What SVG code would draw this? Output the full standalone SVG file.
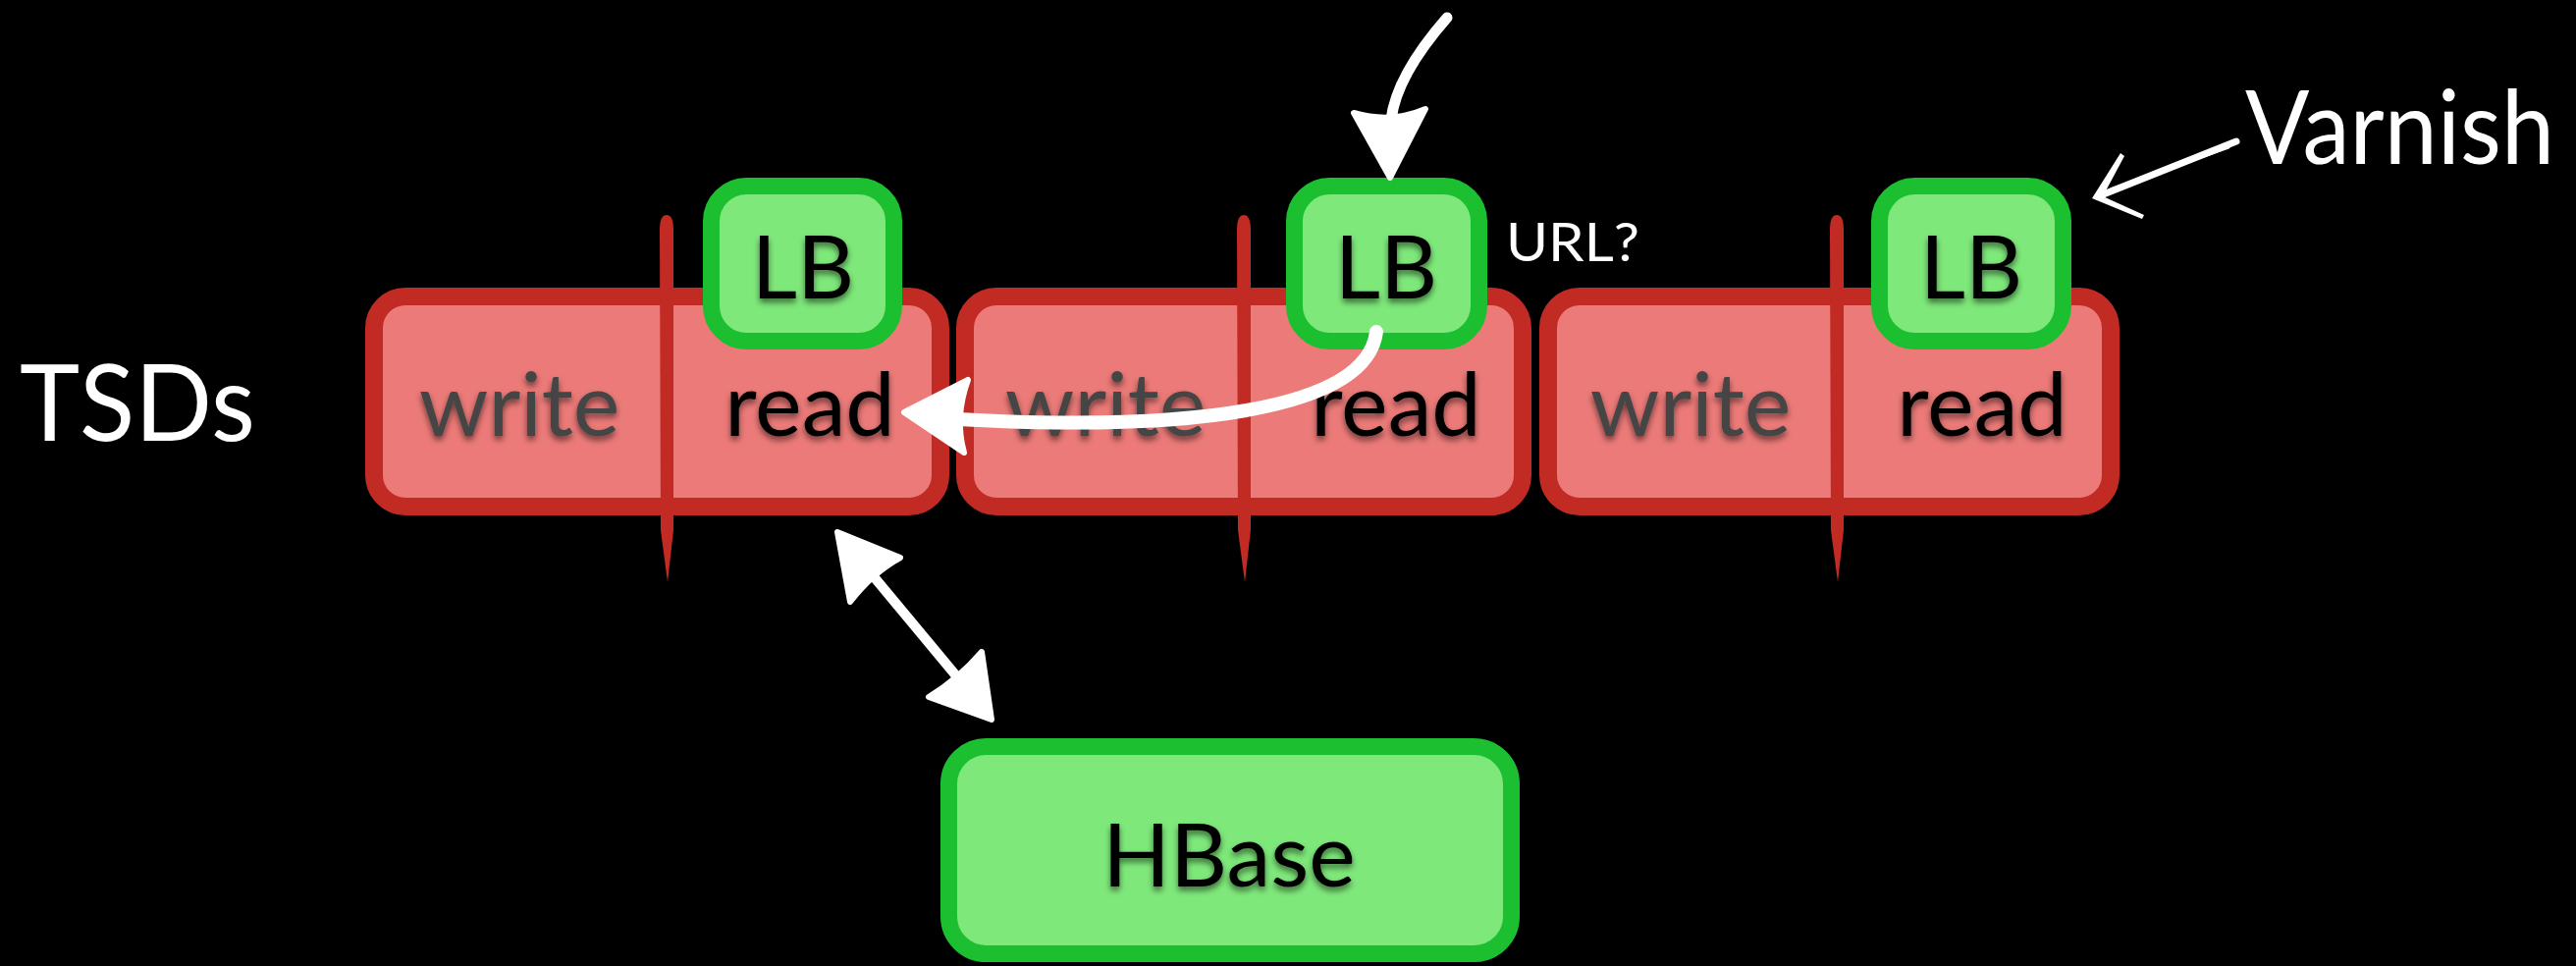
<svg xmlns="http://www.w3.org/2000/svg" width="2624" height="984" viewBox="0 0 2624 984">
<style>
.tsd{fill:#EB7A78;stroke:#C22A24;stroke-width:18}
.lb{fill:#7EE87A;stroke:#1CBF30;stroke-width:17}
.div{fill:#C22A24}
.t{font-family:Lato,"Liberation Sans",sans-serif;font-size:90px;text-anchor:middle;filter:url(#sh)}
.w{fill:#454545}
.r{fill:#000}
.lbl{font-family:Lato,"Liberation Sans",sans-serif;fill:#fff}
.shaft{fill:none;stroke:#fff;stroke-linecap:round}
.head{fill:#fff;stroke:#fff;stroke-width:6;stroke-linejoin:round}
</style>
<defs>
<filter id="sh" x="-20%" y="-20%" width="140%" height="160%">
<feGaussianBlur in="SourceAlpha" stdDeviation="3"/>
<feOffset dx="0" dy="4" result="b"/>
<feComponentTransfer><feFuncA type="linear" slope="0.55"/></feComponentTransfer>
<feMerge><feMergeNode/><feMergeNode in="SourceGraphic"/></feMerge>
</filter>
</defs>
<rect width="2624" height="984" fill="#000"/>

<text class="lbl" x="20" y="449" font-size="108" textLength="240" lengthAdjust="spacingAndGlyphs">TSDs</text>
<text class="lbl" x="2287" y="167" font-size="104" textLength="315" lengthAdjust="spacingAndGlyphs">Varnish</text>
<text class="lbl" x="1534" y="266" font-size="54" textLength="136" lengthAdjust="spacingAndGlyphs">URL?</text>

<g id="tsd1">
<rect class="tsd" x="381" y="302" width="577" height="214" rx="32"/>
<path class="div" d="M672,234 Q672,219 679,219 Q686,219 686,234 L686,540 L680,593 L673,540 Z"/>
<text class="t w" x="529" y="444">write</text>
<text class="t r" x="825" y="444">read</text>
</g>
<g id="tsd2">
<rect class="tsd" x="983" y="302" width="568" height="214" rx="32"/>
<path class="div" d="M1260,234 Q1260,219 1267,219 Q1274,219 1274,234 L1274,540 L1268,593 L1261,540 Z"/>
<text class="t w" x="1126" y="444">write</text>
<text class="t r" x="1422" y="444">read</text>
</g>
<g id="tsd3">
<rect class="tsd" x="1577" y="302" width="573" height="214" rx="32"/>
<path class="div" d="M1864,234 Q1864,219 1871,219 Q1878,219 1878,234 L1878,540 L1872,593 L1865,540 Z"/>
<text class="t w" x="1722" y="444">write</text>
<text class="t r" x="2019" y="444">read</text>
</g>
<g id="lb1">
<rect class="lb" x="724.5" y="189.5" width="186" height="158" rx="36"/>
<text class="t r" x="818" y="304">LB</text>
</g>
<g id="lb2">
<rect class="lb" x="1318.5" y="189.5" width="188" height="158" rx="36"/>
<text class="t r" x="1412" y="304">LB</text>
</g>
<g id="lb3">
<rect class="lb" x="1914.5" y="189.5" width="187" height="158" rx="36"/>
<text class="t r" x="2008" y="304">LB</text>
</g>
<g id="hbase">
<rect class="lb" x="966.5" y="760.5" width="573" height="211" rx="38"/>
<text class="t r" x="1252" y="903">HBase</text>
</g>

<g id="connectors">
<path class="shaft" stroke-width="11" d="M1474,18 C1446,50 1421,88 1417,122"/>
<path class="head" d="M1416,181 L1379,115 Q1417,126 1452,111 Z"/>
<path class="shaft" stroke-width="14" d="M1402,338 C1392,418 1210,440 975,427"/>
<path class="head" d="M921,420 L986,387 Q972,425 982,461 Z"/>
<path class="shaft" stroke-width="10" d="M888,585 L977,692"/>
<path class="head" d="M853,542 L917,568 Q888,584 866,613 Z"/>
<path class="head" d="M1010,733 L1000,664 Q976,692 946,710 Z"/>
<path class="shaft" stroke-width="7" d="M2278,144 L2140,199"/>
<path class="shaft" stroke-width="3" d="M2270,150 L2150,193"/>
<path fill="#fff" d="M2131,202 L2160,156 L2164,159 L2142,200 L2184,219 L2182,223 Z"/>
</g>
</svg>
